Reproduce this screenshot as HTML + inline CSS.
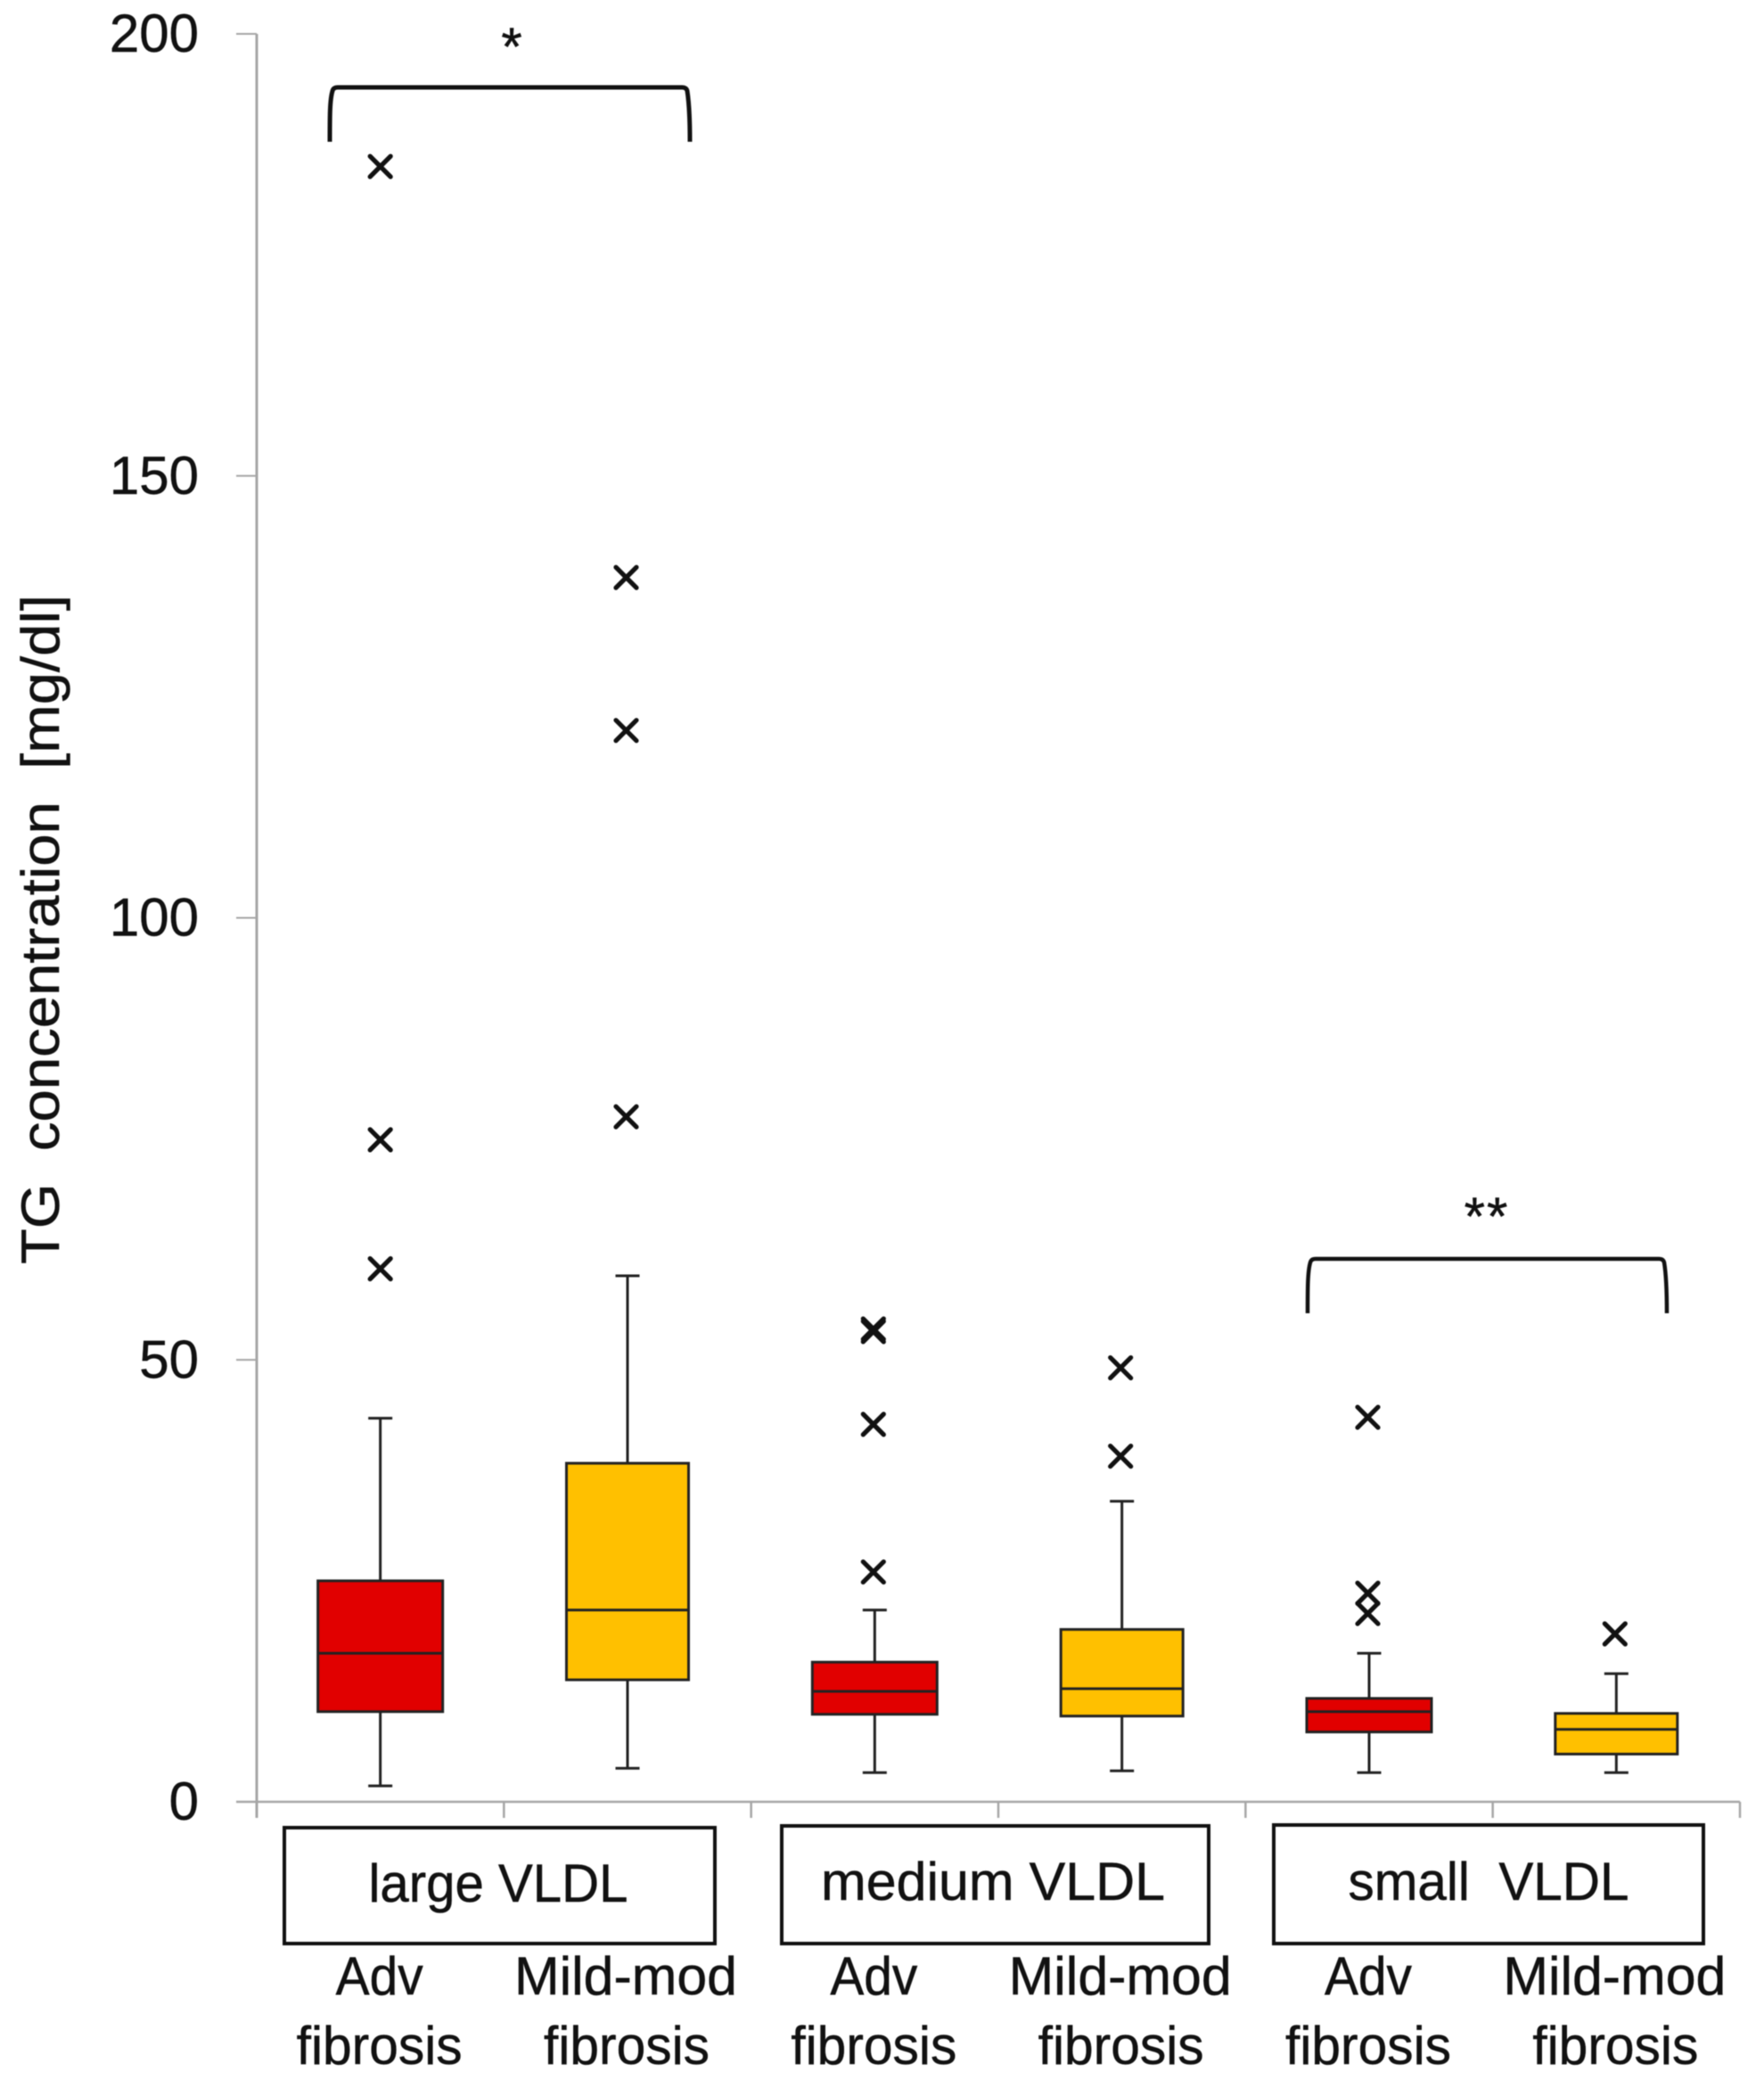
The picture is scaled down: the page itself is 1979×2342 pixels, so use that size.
<!DOCTYPE html>
<html lang="en">
<head>
<meta charset="utf-8">
<title>TG concentration box plot</title>
<style>
  html, body { margin: 0; padding: 0; background: #fff; }
  svg { display: block; filter: blur(0.6px); }
  text { font-family: "Liberation Sans", sans-serif; fill: #111; stroke: #111; stroke-width: 0.5px; white-space: pre; }
</style>
</head>
<body>
<svg id="chart" xmlns="http://www.w3.org/2000/svg" width="1979" height="2342" viewBox="0 0 1979 2342">
  <rect x="0" y="0" width="1979" height="2342" fill="#fff"/>
  <text xml:space="preserve" transform="translate(66,1418) rotate(-90)" font-size="60" textLength="751" lengthAdjust="spacingAndGlyphs">TG  concentration  [mg/dl]</text>

  <path d="M370,159 C370,130 370,112 373,102 Q374,98 379,98 L765,98 Q770,98 771,102 C773,115 774,135 774,159" fill="none" stroke="#111" stroke-width="5"/>
  <text x="574" y="73" font-size="60" text-anchor="middle">*</text>
  <path d="M1467,1473 C1467,1445 1467,1426 1470,1416 Q1471,1412 1476,1412 L1861,1412 Q1866,1412 1867,1416 C1869,1428 1870,1445 1870,1473" fill="none" stroke="#111" stroke-width="4.5"/>
  <text x="1668" y="1385" font-size="60" text-anchor="middle" letter-spacing="2">**</text>

  <g>
    <rect x="319" y="2050" width="483" height="130" fill="#fff" stroke="#111" stroke-width="4"/>
    <text x="559" y="2133" font-size="60" text-anchor="middle" textLength="291" lengthAdjust="spacingAndGlyphs">large VLDL</text>
  </g>
  <g>
    <rect x="877" y="2048" width="479" height="132" fill="#fff" stroke="#111" stroke-width="4"/>
    <text x="1114" y="2131" font-size="60" text-anchor="middle" textLength="386" lengthAdjust="spacingAndGlyphs">medium VLDL</text>
  </g>
  <g>
    <rect x="1429" y="2047" width="482" height="133" fill="#fff" stroke="#111" stroke-width="4"/>
    <text xml:space="preserve" x="1670" y="2131" font-size="60" text-anchor="middle" textLength="315" lengthAdjust="spacingAndGlyphs">small  VLDL</text>
  </g>
</svg>

<script>
const yTickLabels = [0, 50, 100, 150, 200];
const categoryLine1 = ['Adv', 'Mild-mod', 'Adv', 'Mild-mod', 'Adv', 'Mild-mod'];
const categoryLine2 = ['fibrosis', 'fibrosis', 'fibrosis', 'fibrosis', 'fibrosis', 'fibrosis'];
const boxNames = ['large-adv', 'large-mild-mod', 'medium-adv', 'medium-mild-mod', 'small-adv', 'small-mild-mod'];
const whiskerLow = [1.8, 3.8, 3.3, 3.5, 3.3, 3.3];
const quartile1 = [10.2, 13.8, 9.9, 9.7, 7.9, 5.4];
const medians = [16.8, 21.7, 12.5, 12.8, 10.2, 8.2];
const quartile3 = [25.0, 38.3, 15.8, 19.5, 11.7, 10.0];
const whiskerHigh = [43.4, 59.5, 21.7, 34.0, 16.8, 14.5];
const outliers = [
  [185, 74.9, 60.3],
  [138.5, 121.2, 77.5],
  [53.5, 53.2, 42.7, 26.0],
  [49.1, 39.1],
  [43.5, 23.6, 21.3],
  [19.0]
];
const boxColors = ['#e10000', '#ffc000', '#e10000', '#ffc000', '#e10000', '#ffc000'];

const svg = document.getElementById('chart');
const SVG_NS = 'http://www.w3.org/2000/svg';
const axisLeft = 288, axisRight = 1952, axisBottom = 2021, axisTop = 38, yMax = 200;
const yScale = v => axisBottom - (v / yMax) * (axisBottom - axisTop);
const bandWidth = (axisRight - axisLeft) / categoryLine1.length;
const xCenter = i => axisLeft + bandWidth * (i + 0.5);
const xEdge = i => axisLeft + bandWidth * i;

function make(tag, props, parent) {
  const el = document.createElementNS(SVG_NS, tag);
  for (const k in props) el.setAttribute(k, props[k]);
  (parent || svg).appendChild(el);
  return el;
}

const axisColor = '#a6a6a6';

const yAxis = make('line', { x1: axisLeft, x2: axisLeft, y1: axisTop, y2: 2039, stroke: axisColor, 'stroke-width': 3 });



const xAxis = make('line', { x1: 265, x2: axisRight, y1: axisBottom, y2: axisBottom, stroke: axisColor, 'stroke-width': 2.5 });



yTickLabels.forEach(v => {
  if (v !== 0) {
    const tick = make('line', { x1: 265, x2: axisLeft, y1: yScale(v), y2: yScale(v), stroke: axisColor, 'stroke-width': 2 });
    
    
  }
  const label = make('text', { x: 223, y: yScale(v) + 20, 'font-size': 60, 'text-anchor': 'end' });
  label.textContent = String(v);
  
  
});

for (let i = 1; i <= categoryLine1.length; i++) {
  const tick = make('line', { x1: xEdge(i), x2: xEdge(i), y1: axisBottom, y2: 2039, stroke: axisColor, 'stroke-width': 2.5 });
  
  
}

categoryLine1.forEach((name, i) => {
  const cx = xCenter(i);
  const group = make('g', {});
  
  

  const halfBox = boxColors[i] === '#e10000' ? 70 : 68.5;
  const capHalf = 13.5;
  const ink = '#222';

  const whiskerUp = make('line', { x1: cx, x2: cx, y1: yScale(whiskerHigh[i]), y2: yScale(quartile3[i]), stroke: ink, 'stroke-width': 3 }, group);
  
  

  const whiskerDown = make('line', { x1: cx, x2: cx, y1: yScale(quartile1[i]), y2: yScale(whiskerLow[i]), stroke: ink, 'stroke-width': 3 }, group);
  
  

  const capUp = make('line', { x1: cx - capHalf, x2: cx + capHalf, y1: yScale(whiskerHigh[i]), y2: yScale(whiskerHigh[i]), stroke: ink, 'stroke-width': 3 }, group);
  
  

  const capDown = make('line', { x1: cx - capHalf, x2: cx + capHalf, y1: yScale(whiskerLow[i]), y2: yScale(whiskerLow[i]), stroke: ink, 'stroke-width': 3 }, group);
  
  

  const box = make('rect', {
    x: cx - halfBox,
    y: yScale(quartile3[i]),
    width: halfBox * 2,
    height: yScale(quartile1[i]) - yScale(quartile3[i]),
    fill: boxColors[i],
    stroke: ink,
    'stroke-width': 3
  }, group);
  
  

  const median = make('line', { x1: cx - halfBox, x2: cx + halfBox, y1: yScale(medians[i]), y2: yScale(medians[i]), stroke: ink, 'stroke-width': 3 }, group);
  
  

  const markerX = i === 0 ? cx : cx - 1.5;
  outliers[i].forEach(v => {
    const oy = yScale(v), s = 11.5;
    const mark = make('path', {
      d: 'M' + (markerX - s) + ',' + (oy - s) + 'L' + (markerX + s) + ',' + (oy + s) + 'M' + (markerX + s) + ',' + (oy - s) + 'L' + (markerX - s) + ',' + (oy + s),
      stroke: '#111',
      'stroke-width': 5.2,
      'stroke-linecap': 'round',
      fill: 'none'
    }, group);
    
    
  });

  const isAdv = name === 'Adv';
  const line1 = make('text', { x: isAdv ? cx - 1 : cx - 2, y: 2237, 'font-size': 60, 'text-anchor': 'middle', textLength: isAdv ? 98 : 250, lengthAdjust: 'spacingAndGlyphs' });
  line1.textContent = name;
  
  

  const line2 = make('text', { x: cx - 1, y: 2315, 'font-size': 60, 'text-anchor': 'middle', textLength: 186, lengthAdjust: 'spacingAndGlyphs' });
  line2.textContent = categoryLine2[i];
  
  
});
</script>
</body>
</html>
